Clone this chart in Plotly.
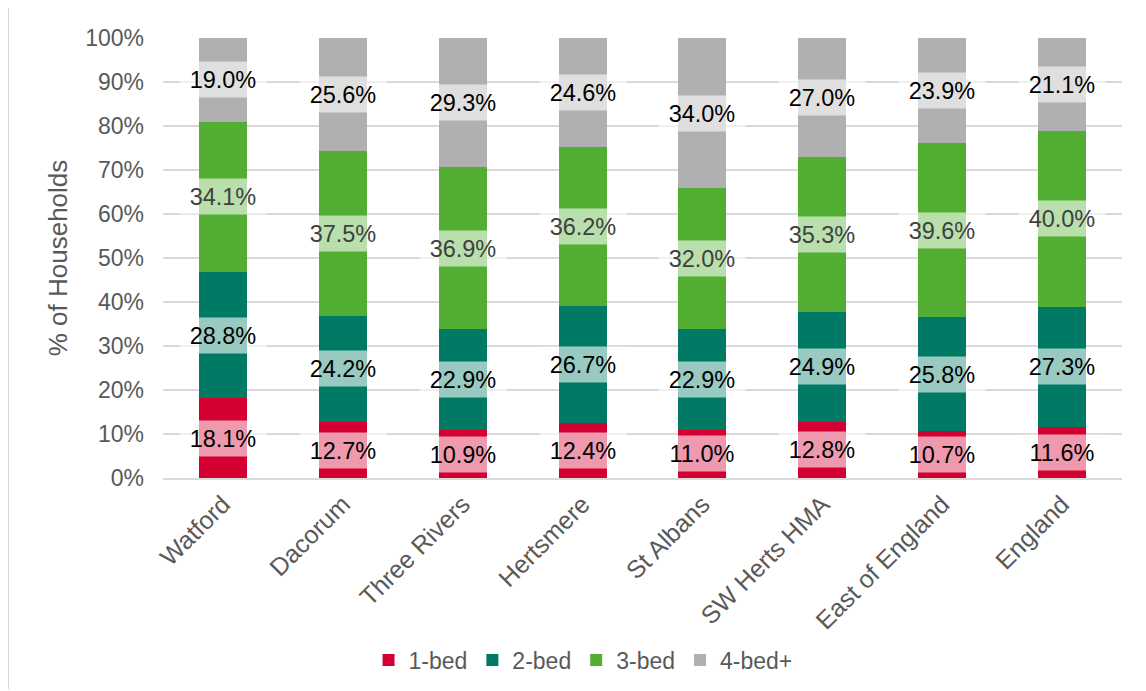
import plotly.graph_objects as go

areas = ["Watford", "Dacorum", "Three Rivers", "Hertsmere", "St Albans",
         "SW Herts HMA", "East of England", "England"]
series_names = ["1-bed", "2-bed", "3-bed", "4-bed+"]
bed1 = [18.1, 12.7, 10.9, 12.4, 11.0, 12.8, 10.7, 11.6]
bed2 = [28.8, 24.2, 22.9, 26.7, 22.9, 24.9, 25.8, 27.3]
bed3 = [34.1, 37.5, 36.9, 36.2, 32.0, 35.3, 39.6, 40.0]
bed4 = [19.0, 25.6, 29.3, 24.6, 34.0, 27.0, 23.9, 21.1]
y_ticks = [0, 10, 20, 30, 40, 50, 60, 70, 80, 90, 100]
y_tick_labels = [f"{t}%" for t in y_ticks]

colors = ["#D50032", "#007A64", "#52AE32", "#B0B0B0"]
label_colors = ["#000000", "#000000", "#404040", "#000000"]
FONT = "Liberation Sans, Arial, sans-serif"

fig = go.Figure()
all_series = [bed1, bed2, bed3, bed4]
for name, vals, col in zip(series_names, all_series, colors):
    fig.add_trace(go.Bar(
        x=areas, y=vals, name=name,
        marker=dict(color=col, line=dict(width=0)),
        hoverinfo="x+y+name",
    ))

annotations = []
base = [0.0] * len(areas)
for vals, lc in zip(all_series, label_colors):
    for i, (a, v) in enumerate(zip(areas, vals)):
        annotations.append(dict(
            x=a, y=base[i] + v / 2, xref="x", yref="y",
            text=f"{v:.1f}%", showarrow=False,
            font=dict(family=FONT, size=23.5, color=lc),
            bgcolor="rgba(255,255,255,0.6)",
            width=86, height=35, borderpad=0,
            xanchor="center", yanchor="middle", valign="middle",
        ))
        base[i] += v

fig.update_layout(
    width=1138, height=683,
    margin=dict(l=155, r=24, t=30, b=213, autoexpand=False),
    paper_bgcolor="white", plot_bgcolor="white",
    barmode="stack", bargap=0.6,
    font=dict(family=FONT, size=23, color="#595959"),
    annotations=annotations,
    legend=dict(
        orientation="h", x=0.438, xanchor="center", y=-0.414, yanchor="middle",
        traceorder="normal", font=dict(size=23, color="#595959"),
        itemwidth=30,
    ),
    shapes=[dict(type="line", xref="paper", yref="paper",
                 x0=-0.1616, x1=-0.1616, y0=-0.48, y1=1.09,
                 line=dict(color="#D9D9D9", width=2))],
)
fig.update_yaxes(
    range=[0, 100], tickvals=y_ticks, ticktext=y_tick_labels,
    showgrid=True, gridcolor="#D9D9D9", gridwidth=1.5,
    zeroline=False, showline=False, ticks="",
    ticklabelstandoff=18,
    tickfont=dict(size=23, color="#595959"),
    title=dict(text="% of Households", font=dict(size=26, color="#595959"), standoff=10),
)
fig.update_xaxes(
    tickangle=-45, showline=True, linecolor="#D9D9D9", linewidth=1.5,
    showgrid=False, ticks="",
    tickfont=dict(size=25, color="#595959"),
)

fig.write_html("out.html")
